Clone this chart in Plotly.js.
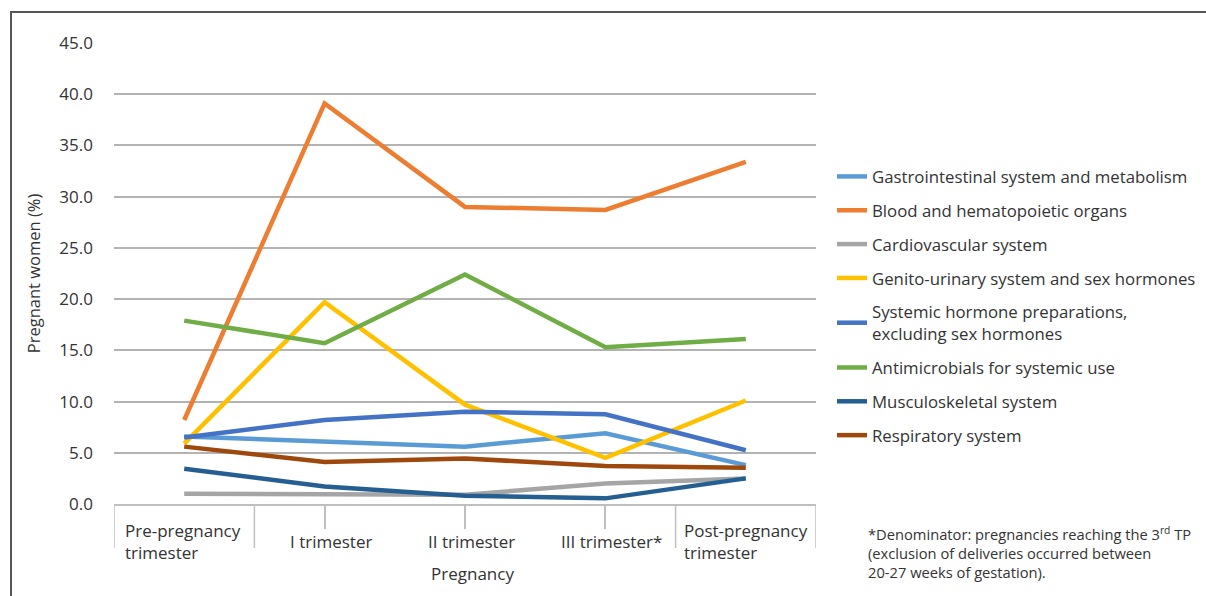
<!DOCTYPE html>
<html>
<head>
<meta charset="utf-8">
<script src="https://cdn.plot.ly/plotly-3.0.1.min.js"></script>
<style>
  html, body { margin: 0; padding: 0; background: #fff; }
  #wrap { position: relative; width: 1206px; height: 596px; }
  #chart { position: absolute; left: 0; top: 0; width: 1206px; height: 596px; }
  #frame { position: absolute; left: 10px; top: 11px; width: 1196px; height: 585px;
           border-top: 2px solid #555; border-left: 2px solid #555; pointer-events: none; }
</style>
</head>
<body>
<div id="wrap">
  <div id="chart"></div>
  <div id="frame"></div>
</div>
<script>
// ---- data ----
const categories = ["Pre-pregnancy trimester", "I trimester", "II trimester", "III trimester*", "Post-pregnancy trimester"];
const categoryLabels = ["Pre-pregnancy<br>trimester", "I trimester", "II trimester", "III trimester*", "Post-pregnancy<br>trimester"];
const groupLabel = "Pregnancy";

const seriesNames = [
  "Gastrointestinal system and metabolism",
  "Blood and hematopoietic organs",
  "Cardiovascular system",
  "Genito-urinary system and sex hormones",
  "Systemic hormone preparations,<br>excluding sex hormones",
  "Antimicrobials for systemic use",
  "Musculoskeletal system",
  "Respiratory system"
];
const gastrointestinal = [6.6, 6.1, 5.6, 6.9, 3.8];
const blood            = [8.2, 39.1, 29.0, 28.7, 33.4];
const cardiovascular   = [1.0, 0.9, 0.9, 2.0, 2.5];
const genitoUrinary    = [5.9, 19.7, 9.7, 4.5, 10.1];
const systemicHormone  = [6.5, 8.2, 9.0, 8.75, 5.25];
const antimicrobials   = [17.9, 15.7, 22.4, 15.3, 16.1];
const musculoskeletal  = [3.45, 1.7, 0.8, 0.55, 2.5];
const respiratory      = [5.6, 4.1, 4.45, 3.7, 3.55];
const seriesValues = [gastrointestinal, blood, cardiovascular, genitoUrinary,
                      systemicHormone, antimicrobials, musculoskeletal, respiratory];
const seriesColors = ["#5b9bd5", "#ed7d31", "#a5a5a5", "#ffc000", "#4472c4", "#70ad47", "#255e91", "#9e480e"];

const yTickVals = [0, 5, 10, 15, 20, 25, 30, 35, 40, 45];
const footnote = "*Denominator: pregnancies reaching the 3<sup>rd</sup> TP<br>(exclusion of deliveries occurred between<br>20-27 weeks of gestation).";

// ---- chart ----
const FONT = "Open Sans, Noto Sans, sans-serif";
const TXT = "#333333";
const FS = 17;

const traces = seriesValues.map((vals, i) => ({
  type: "scatter",
  mode: "lines",
  x: categories,
  y: vals,
  name: seriesNames[i],
  legendgroup: "g" + i,
  line: { color: seriesColors[i], width: 4.5 },
  hoverinfo: "x+y+name"
}));

const plotH = 461; // px height of plot area (for paper conversions)

const shapes = [];
// long divider lines under the axis (boundaries of categories / group)
[-0.5, 0.5, 3.5, 4.5].forEach(xv => {
  shapes.push({ type: "line", xref: "x", yref: "paper", x0: xv, x1: xv, y0: 0, y1: -44 / plotH,
                line: { color: "#bfbfbf", width: 1.5 } });
});

const annotations = [];
categories.forEach((c, i) => {
  const twoLine = categoryLabels[i].indexOf("<br>") >= 0;
  annotations.push({
    xref: "x", yref: "paper", x: c, y: 0,
    yanchor: "top", xanchor: twoLine ? "left" : "center", align: "left",
    yshift: twoLine ? -13 : -24,
    xshift: twoLine ? (i === 0 ? -61 : -64) : 6,
    text: categoryLabels[i], showarrow: false,
    font: { family: FONT, size: FS, color: TXT }
  });
});
annotations.push({
  xref: "x", yref: "paper", x: categories[2], y: 0, yanchor: "top", xanchor: "center",
  yshift: -56, xshift: 7, text: groupLabel, showarrow: false,
  font: { family: FONT, size: FS, color: TXT }
});
annotations.push({
  xref: "paper", yref: "paper", x: (866 - 114) / 702, y: -17 / plotH,
  xanchor: "left", yanchor: "top", align: "left",
  text: footnote, showarrow: false,
  font: { family: FONT, size: 14.7, color: TXT }
});

const layout = {
  width: 1206, height: 596,
  margin: { l: 114, r: 390, t: 43, b: 92 },
  paper_bgcolor: "#ffffff", plot_bgcolor: "#ffffff",
  font: { family: FONT, color: TXT, size: FS },
  showlegend: true,
  legend: {
    xref: "container", yref: "container",
    x: 832 / 1206, y: 1 - 159 / 596, xanchor: "left", yanchor: "top",
    font: { family: FONT, size: 16.8, color: TXT },
    tracegroupgap: 9, itemwidth: 30,
    maxheight: 500,
    bgcolor: "rgba(0,0,0,0)"
  },
  xaxis: {
    type: "category", range: [-0.5, 4.5],
    showgrid: false, zeroline: false,
    showline: true, linecolor: "#bfbfbf", linewidth: 1.5,
    showticklabels: false,
    ticks: "outside", ticklen: 23, tickcolor: "#bfbfbf", tickwidth: 1.5,
    tickmode: "array", tickvals: categories.slice(1, 4),
    fixedrange: true
  },
  yaxis: {
    range: [0, 45], tickmode: "array", tickvals: yTickVals,
    tickformat: ".1f",
    showgrid: true, gridcolor: "#b3b3b3", gridwidth: 1.5,
    zeroline: false, showline: false, ticks: "",
    ticklabelstandoff: 20,
    tickfont: { family: FONT, size: FS, color: TXT },
    title: { text: "Pregnant women (%)", standoff: 14,
             font: { family: FONT, size: 16.5, color: TXT } },
    fixedrange: true
  },
  shapes: shapes,
  annotations: annotations
};

Plotly.newPlot("chart", traces, layout, { displayModeBar: false, staticPlot: false });
</script>
</body>
</html>
